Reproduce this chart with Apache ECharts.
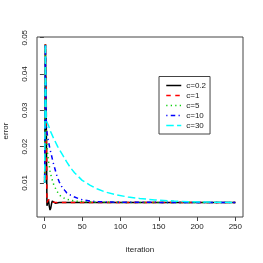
<!DOCTYPE html>
<html>
<head>
<meta charset="utf-8">
<script src="https://cdn.jsdelivr.net/npm/echarts@6/dist/echarts.min.js"></script>
<style>
html,body{margin:0;padding:0;background:#fff;}
#c{width:263px;height:263px;}
</style>
</head>
<body>
<div id="c"></div>
<script>
const seriesNames = ['c=0.2', 'c=1', 'c=5', 'c=10', 'c=30'];
const xTicks = [0, 50, 100, 150, 200, 250];
const yTicks = [0.01, 0.02, 0.03, 0.04, 0.05];

const iterC02 = [1, 2, 3, 4, 5, 6, 7, 8, 9, 10, 11, 12, 13, 15, 17, 20, 30, 50, 100, 150, 200, 250];
const errC02  = [0.0101, 0.0483, 0.0301, 0.0037, 0.0046, 0.0053, 0.0036, 0.0025, 0.0031, 0.0043, 0.0050, 0.0050, 0.0047, 0.0044, 0.0045, 0.0046, 0.00463, 0.00463, 0.00463, 0.00463, 0.00463, 0.00463];

const iterC1 = [1, 2, 3, 4, 5, 6, 7, 8, 9, 11, 15, 30, 50, 100, 150, 200, 250];
const errC1  = [0.0101, 0.0483, 0.0366, 0.0046, 0.0050, 0.0054, 0.0052, 0.0049, 0.0047, 0.0046, 0.00463, 0.00463, 0.00463, 0.00463, 0.00463, 0.00463, 0.00463];

const iterC5 = [1, 2, 3, 4, 5, 6, 7, 8, 10, 13, 17, 22, 28, 35, 45, 60, 80, 100, 150, 200, 250];
const errC5  = [0.0101, 0.0483, 0.0240, 0.0205, 0.0178, 0.0160, 0.0148, 0.0133, 0.0114, 0.0094, 0.0077, 0.0063, 0.0056, 0.0052, 0.0049, 0.0047, 0.00465, 0.00463, 0.00463, 0.00463, 0.00463];

const iterC10 = [1, 2, 3, 4, 6, 8, 12, 17, 20, 23, 27, 30, 35, 40, 45, 51, 60, 70, 90, 120, 150, 200, 250];
const errC10  = [0.0101, 0.0483, 0.0262, 0.0240, 0.0213, 0.0193, 0.0157, 0.0119, 0.0103, 0.0091, 0.0080, 0.0072, 0.0066, 0.0061, 0.0057, 0.0053, 0.0050, 0.0048, 0.0047, 0.00465, 0.00463, 0.00463, 0.00463];

const iterC30 = [1, 2, 3, 4, 6, 8, 12, 18, 25, 30, 35, 40, 50, 60, 70, 80, 95, 110, 125, 145, 170, 190, 220, 250];
const errC30  = [0.0101, 0.0483, 0.0272, 0.0268, 0.0258, 0.0245, 0.0226, 0.0200, 0.0175, 0.0157, 0.0141, 0.0128, 0.0107, 0.0094, 0.0083, 0.0075, 0.0067, 0.0061, 0.0057, 0.0053, 0.0050, 0.0048, 0.0047, 0.0046];

const xs = [iterC02, iterC1, iterC5, iterC10, iterC30];
const ys = [errC02, errC1, errC5, errC10, errC30];
const colors = ['#000000', '#FF0000', '#00CD00', '#0000FF', '#00FFFF'];
const dashes = ['solid', [4.5, 4.5], [1.2, 3.3], [1.2, 3.3, 4.5, 3.3], [7.5, 3.3]];

const font = 'Liberation Sans, Arial, Helvetica, sans-serif';
const chart = echarts.init(document.getElementById('c'), null, {renderer: 'canvas'});

const series = seriesNames.map((name, i) => ({
  name: name,
  type: 'line',
  data: xs[i].map((x, j) => [x, ys[i][j]]),
  showSymbol: false,
  symbol: 'none',
  smooth: false,
  animation: false,
  color: colors[i],
  lineStyle: {color: colors[i], width: 1.5, type: dashes[i]}
}));

chart.setOption({
  backgroundColor: '#ffffff',
  animation: false,
  grid: {left: 37, right: 20, top: 37, bottom: 46, show: true, borderColor: '#444', borderWidth: 1, backgroundColor: 'transparent',
    containLabel: false, outerBoundsMode: 'none'},
  xAxis: {
    type: 'value', min: -9, max: 260,
    name: 'iteration', nameLocation: 'middle', nameGap: 29,
    nameTextStyle: {fontFamily: font, fontSize: 8, color: '#222'},
    axisLine: {show: false},
    axisTick: {show: true, inside: false, length: 4, customValues: xTicks, lineStyle: {color: '#444', width: 1}},
    axisLabel: {show: true, customValues: xTicks, margin: 6, fontFamily: font, fontSize: 8, color: '#222'},
    splitLine: {show: false}
  },
  yAxis: {
    type: 'value', min: 0.0006, max: 0.0502,
    name: 'error', nameLocation: 'middle', nameGap: 27,
    nameTextStyle: {fontFamily: font, fontSize: 8, color: '#222', padding: [0, 0, 0, -8]},
    axisLine: {show: false},
    axisTick: {show: true, inside: false, length: 4, customValues: yTicks, lineStyle: {color: '#444', width: 1}},
    axisLabel: {show: true, customValues: yTicks, rotate: 90, margin: 8, fontFamily: font, fontSize: 8, color: '#222',
      formatter: v => String(Number(v.toFixed(4)))},
    splitLine: {show: false}
  },
  legend: {
    show: true, orient: 'vertical', left: 159, top: 76.5,
    data: seriesNames,
    itemWidth: 15, itemHeight: 9, itemGap: 2,
    padding: [5, 4, 4.5, 6.5],
    borderColor: '#444', borderWidth: 1, backgroundColor: '#fff',
    itemStyle: {opacity: 0},
    lineStyle: {width: 1.5},
    textStyle: {fontFamily: font, fontSize: 8, color: '#222'},
    selectedMode: false
  },
  series: series
});
</script>
</body>
</html>
